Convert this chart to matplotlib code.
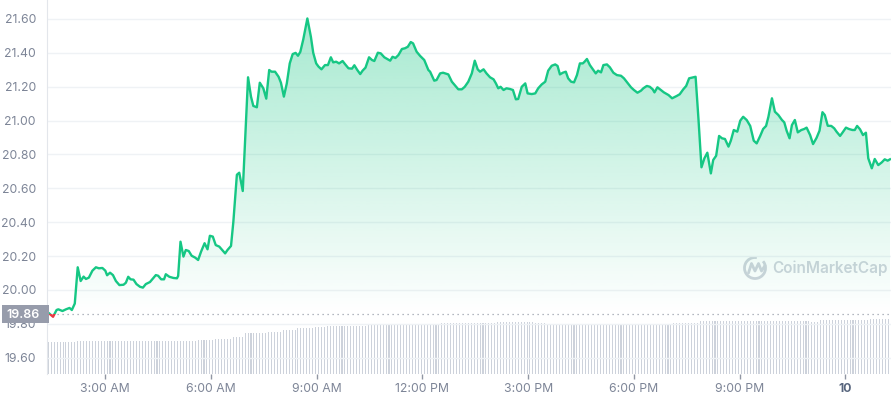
import numpy as np
import matplotlib
matplotlib.use("Agg")
import matplotlib.pyplot as plt
from matplotlib.patches import Rectangle, Arc

plt.rcParams['font.family'] = ['Inter', 'DejaVu Sans']

# ---------------- data ----------------
base_price = 19.86

# minutes since midnight of day 1
price_minutes = [
    83, 91, 97, 100, 107, 113, 119, 123, 128, 133, 138, 143, 147, 152, 158, 164, 169, 175, 180, 183,
    188, 193, 198, 204, 211, 215, 219, 223, 228, 233, 239, 244, 249, 256, 262, 266, 270, 275, 280, 283,
    289, 296, 302, 304, 308, 313, 317, 322, 327, 333, 338, 343, 349, 354, 358, 363, 368, 374, 379, 384,
    388, 394, 398, 404, 408, 414, 423, 428, 432, 438, 443, 449, 454, 459, 463, 469, 475, 479, 484, 489,
    494, 499, 504, 508, 512, 517, 524, 530, 534, 539, 543, 548, 554, 559, 564, 568, 573, 578, 584, 588,
    594, 600, 604, 609, 614, 618, 623, 629, 634, 638, 644, 649, 655, 660, 665, 669, 674, 679, 685, 690,
    695, 700, 704, 710, 716, 723, 730, 733, 740, 744, 750, 755, 764, 770, 775, 781, 787, 792, 798, 804,
    809, 814, 818, 824, 829, 835, 841, 845, 849, 853, 858, 863, 869, 874, 879, 883, 889, 895, 899, 906,
    912, 917, 923, 929, 934, 940, 946, 950, 954, 959, 964, 968, 973, 978, 983, 988, 993, 996, 1000, 1005,
    1011, 1015, 1019, 1024, 1028, 1034, 1039, 1045, 1051, 1058, 1063, 1069, 1075, 1080, 1086, 1092, 1096, 1102, 1107, 1112,
    1115, 1120, 1126, 1131, 1139, 1145, 1153, 1158, 1164, 1169, 1174, 1181, 1185, 1190, 1195, 1200, 1205, 1211, 1215, 1220,
    1225, 1230, 1235, 1241, 1245, 1250, 1256, 1261, 1266, 1272, 1278, 1284, 1289, 1295, 1300, 1305, 1309, 1315, 1320, 1326,
    1332, 1336, 1340, 1345, 1349, 1354, 1359, 1365, 1370, 1374, 1380, 1385, 1391, 1396, 1401, 1405, 1410, 1416, 1421, 1425,
    1431, 1435, 1441, 1446, 1452, 1456, 1460, 1465, 1470, 1475, 1479, 1485, 1490, 1496, 1502, 1507, 1512, 1516,
]

prices = [
    19.866, 19.842, 19.882, 19.886, 19.876, 19.886, 19.894, 19.882, 19.920, 20.134, 20.053, 20.079, 20.065, 20.073, 20.114, 20.134, 20.128, 20.130, 20.114, 20.087,
    20.102, 20.088, 20.053, 20.029, 20.031, 20.043, 20.078, 20.063, 20.061, 20.035, 20.019, 20.014, 20.035, 20.047, 20.071, 20.088, 20.084, 20.063, 20.063, 20.093,
    20.078, 20.071, 20.069, 20.083, 20.285, 20.197, 20.236, 20.230, 20.202, 20.191, 20.177, 20.226, 20.276, 20.240, 20.320, 20.315, 20.265, 20.256, 20.236, 20.216,
    20.236, 20.260, 20.403, 20.680, 20.692, 20.584, 21.255, 21.141, 21.086, 21.078, 21.223, 21.190, 21.129, 21.298, 21.288, 21.288, 21.258, 21.223, 21.141, 21.219,
    21.337, 21.392, 21.399, 21.382, 21.405, 21.478, 21.602, 21.494, 21.399, 21.337, 21.318, 21.302, 21.327, 21.327, 21.373, 21.343, 21.347, 21.337, 21.351, 21.333,
    21.308, 21.306, 21.326, 21.298, 21.274, 21.294, 21.312, 21.373, 21.357, 21.351, 21.400, 21.396, 21.373, 21.363, 21.353, 21.376, 21.369, 21.386, 21.422, 21.426,
    21.435, 21.463, 21.455, 21.406, 21.381, 21.357, 21.298, 21.288, 21.235, 21.239, 21.278, 21.282, 21.272, 21.229, 21.209, 21.184, 21.184, 21.199, 21.229, 21.278,
    21.353, 21.302, 21.288, 21.302, 21.278, 21.255, 21.243, 21.219, 21.190, 21.199, 21.180, 21.190, 21.186, 21.180, 21.125, 21.127, 21.199, 21.219, 21.160, 21.156,
    21.160, 21.190, 21.213, 21.229, 21.294, 21.323, 21.331, 21.322, 21.272, 21.282, 21.288, 21.249, 21.229, 21.225, 21.268, 21.337, 21.337, 21.347, 21.363, 21.327,
    21.298, 21.278, 21.294, 21.284, 21.327, 21.331, 21.314, 21.282, 21.268, 21.264, 21.249, 21.223, 21.196, 21.180, 21.164, 21.176, 21.190, 21.204, 21.199, 21.184,
    21.166, 21.196, 21.180, 21.166, 21.150, 21.131, 21.145, 21.155, 21.184, 21.204, 21.249, 21.255, 21.258, 21.003, 20.724, 20.777, 20.810, 20.688, 20.767, 20.792,
    20.909, 20.895, 20.891, 20.846, 20.881, 20.944, 20.934, 20.999, 21.022, 21.003, 20.968, 20.881, 20.865, 20.909, 20.950, 20.968, 21.022, 21.131, 21.052, 21.032,
    21.003, 20.989, 20.940, 20.895, 20.973, 21.003, 20.930, 20.944, 20.950, 20.958, 20.914, 20.861, 20.898, 20.940, 21.049, 21.032, 20.969, 20.968, 20.954, 20.934,
    20.909, 20.928, 20.958, 20.950, 20.944, 20.944, 20.968, 20.948, 20.914, 20.928, 20.777, 20.718, 20.773, 20.737, 20.753, 20.771, 20.763, 20.771,
]

# volume bars: one per 5 minutes, relative height units
volume_start_minute = 83
volume_interval_minutes = 5
volume = [
    32, 32, 32, 32, 32, 32, 32, 32, 32, 32,
    33, 33, 33, 33, 33, 33, 33, 33, 33, 33, 33, 33, 33, 33, 33, 33, 33, 33, 33, 33, 33,
    33, 33, 33, 33, 33, 33, 33, 33, 33, 33, 33, 33, 33, 33, 33, 33, 33, 33, 33, 33,
    34, 34, 34, 34, 34, 34,
    35, 35, 35, 35, 35, 35,
    37, 37, 37, 37,
    41, 41, 41, 41, 41, 41, 41, 41,
    42, 42, 42, 42, 42,
    44, 44, 44, 44, 44,
    46, 46, 46, 46, 46, 46,
    47, 47, 47, 47,
    48, 48, 48, 48, 48, 48, 48, 48, 48, 48, 48, 48, 48, 48,
    50, 50, 50, 50, 50, 50, 50, 50, 50, 50, 50, 50, 50, 50, 50, 50, 50, 50, 50, 50, 50, 50, 50, 50, 50,
    51, 51, 51, 51, 51, 51, 51, 51, 51, 51, 51, 51, 51, 51, 51, 51, 51, 51, 51,
    52, 52, 52, 52, 52, 52, 52, 52, 52, 52, 52, 52, 52,
    51, 51, 51, 51,
    50, 50, 50, 50, 50, 50, 50, 50, 50, 50, 50, 50,
    50, 50, 50, 50, 50, 50, 50, 50, 50, 50, 50, 50, 50, 50, 50, 50,
    50, 50, 50, 50, 50, 50, 50, 50, 50, 50, 50, 50, 50, 50, 50,
    51, 51, 51, 51, 51, 51, 51, 51, 51,
    53, 53, 53, 53, 53, 53, 53, 53, 53, 53, 53, 53, 53, 53, 53, 53, 53, 53, 53,
    53, 53, 53, 53, 53, 53, 53, 53, 53, 53, 53, 53, 53, 53, 53, 53, 53, 53, 53,
    52, 52, 52,
    54, 54, 54, 54, 54, 54, 54, 54, 54, 54, 54, 54, 54, 54, 54, 54, 54,
    55, 55, 55, 55, 55, 55, 55,
]

y_ticks = [19.60, 19.80, 20.00, 20.20, 20.40, 20.60, 20.80, 21.00, 21.20, 21.40, 21.60]
x_tick_minutes = [180, 360, 540, 720, 900, 1080, 1260, 1440]
x_tick_labels = ["3:00 AM", "6:00 AM", "9:00 AM", "12:00 PM", "3:00 PM", "6:00 PM", "9:00 PM", "10"]

# ---------------- style ----------------
GREEN = '#16c784'
RED = '#ea3943'
TXT = '#7d8597'
GRID = '#eff2f5'

t = np.array(price_minutes, dtype=float)
p = np.array(prices)
vt = volume_start_minute + volume_interval_minutes * np.arange(len(volume))

fig = plt.figure(figsize=(8.92, 4.0), dpi=100, facecolor='white')
ax_box = [47 / 892, 26 / 400, 844 / 892, 374 / 400]
ax2 = fig.add_axes(ax_box, zorder=1)
ax = fig.add_axes(ax_box, zorder=2)
ax.patch.set_visible(False)

xmin, xmax = 80.7, 1517.7
ymin, ymax = 19.5044, 21.711

# volume
ax2.bar(vt, volume, width=1.8, color='#cdd2db', linewidth=0)
ax2.set_xlim(xmin, xmax)
ax2.set_ylim(0, 374)
ax2.axis('off')

ax.set_xlim(xmin, xmax)
ax.set_ylim(ymin, ymax)

# gridlines
ax.set_yticks(y_ticks)
ax.set_yticklabels([f"{v:.2f}" for v in y_ticks])
ax.grid(axis='y', color=GRID, lw=1)
ax.set_axisbelow(True)

# gradient fill above baseline
coll = ax.fill_between(t, np.maximum(p, base_price), base_price, color='none', lw=0)
fill_path = coll.get_paths()[0]
grad = np.zeros((256, 1, 4))
grad[..., :3] = matplotlib.colors.to_rgb(GREEN)
grad[:, 0, 3] = np.linspace(0.0, 0.38, 256)
im = ax.imshow(grad, origin='lower', aspect='auto', extent=[xmin, xmax, base_price, p.max()],
               interpolation='bilinear', zorder=1.5)
im.set_clip_path(fill_path, ax.transData)

# baseline dotted
ax.axhline(base_price, color='#9aa0ad', lw=0.9, ls=(0, (1, 3)), zorder=1.8)

# price line (green above baseline, red below)
clip_up = Rectangle((xmin, base_price), xmax - xmin, ymax - base_price, transform=ax.transData)
clip_dn = Rectangle((xmin, ymin), xmax - xmin, base_price - ymin, transform=ax.transData)
l1, = ax.plot(t, p, color=GREEN, lw=1.7, zorder=3, solid_joinstyle='round')
l1.set_clip_path(clip_up)
l2, = ax.plot(t, p, color=RED, lw=1.7, zorder=3, solid_joinstyle='round')
l2.set_clip_path(clip_dn)

# axes styling
for s in ['top', 'right', 'bottom']:
    ax.spines[s].set_visible(False)
ax.spines['left'].set_color('#e3e6eb')
ax.tick_params(axis='y', length=0, pad=8, labelsize=8.8, labelcolor=TXT)
ax.set_xticks(x_tick_minutes)
ax.set_xticklabels(x_tick_labels)
ax.tick_params(axis='x', length=3.5, width=1, color='#9096a3', pad=3, labelsize=8.8, labelcolor=TXT)
last = ax.get_xticklabels()[-1]
last.set_fontweight('bold')
last.set_color('#58667e')

# baseline label (box in axes-x / data-y coordinates)
ytrans = ax.get_yaxis_transform()
box_h = 0.054
ax.add_patch(Rectangle((-0.0537, base_price - box_h), 0.0555, 2 * box_h, transform=ytrans,
                       facecolor='#979cab', edgecolor='none', zorder=9, clip_on=False))
ax.text(-0.0282, base_price, "19.86", transform=ytrans, ha='center', va='center_baseline',
        color='white', fontsize=9.0, fontweight='semibold', zorder=10, clip_on=False)

# watermark
wm = fig.add_axes([0, 0, 1, 1], zorder=1.5)
wm.set_xlim(0, 892)
wm.set_ylim(400, 0)
wm.axis('off')
wm.patch.set_visible(False)
wm.add_patch(Arc((755, 268), 21, 21, theta1=-40, theta2=280, lw=2.0, color='#cfd4dc'))
wm.plot([748.5, 751.5, 755, 758.5, 761.5, 765], [273, 263.5, 271, 263.5, 271, 265.5],
        color='#cfd4dc', lw=2.0, solid_joinstyle='round', solid_capstyle='round')
wm.text(772, 268.5, "CoinMarketCap", color='#cfd4dc', fontsize=11, fontweight='semibold',
        ha='left', va='center')

fig.savefig('out.png', dpi=100, facecolor='white')
